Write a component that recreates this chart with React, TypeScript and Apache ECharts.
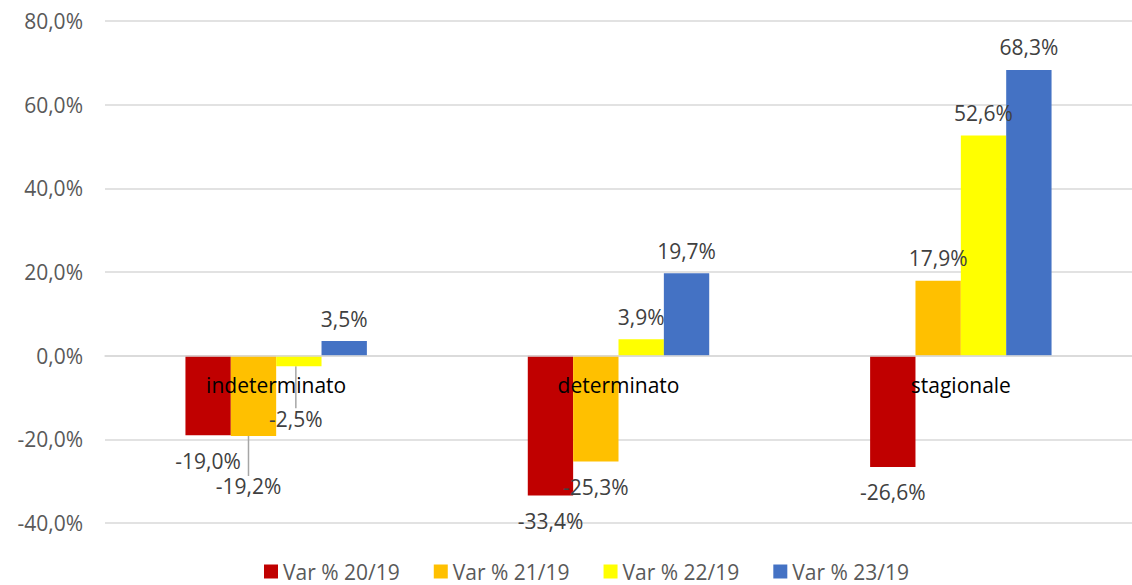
import React, { useEffect, useRef } from "react";
import * as echarts from "echarts";

const categories = ["indeterminato", "determinato", "stagionale"];
const seriesNames = ["Var % 20/19", "Var % 21/19", "Var % 22/19", "Var % 23/19"];
const var2019 = [-19.0, -33.4, -26.6];
const var2119 = [-19.2, -25.3, 17.9];
const var2219 = [-2.5, 3.9, 52.6];
const var2319 = [3.5, 19.7, 68.3];
const colors = ["#C00000", "#FFC000", "#FFFF00", "#4472C4"];
const yMin = -40;
const yMax = 80;
const yInterval = 20;

const FONT = "Open Sans";
const FS = 21;
const fmt = (v: number) => v.toFixed(1).replace(".", ",") + "%";

// labels displaced in the reference (series index, data index, dx, dy)
const displaced: [number, number, number, number][] = [
  [1, 0, -5, 25],
  [2, 0, -3, 27],
];

export default function App() {
  const ref = useRef<HTMLDivElement>(null);
  useEffect(() => {
    document.body.style.margin = "0";
    if (!ref.current) return;
    const chart = echarts.init(ref.current, undefined, { renderer: "svg" });
    const all = [var2019, var2119, var2219, var2319];
    const series = all.map((arr, si) => ({
      name: seriesNames[si],
      type: "bar",
      barGap: "0%",
      barCategoryGap: "47%",
      itemStyle: { color: colors[si] },
      data: arr.map((v, di) => {
        const d = displaced.find((x) => x[0] === si && x[1] === di);
        return {
          value: v,
          label: {
            position: v >= 0 ? "top" : "bottom",
            distance: v >= 0 ? 12 : 15,
          },
          labelLine: { show: !!d },
        };
      }),
      label: {
        show: true,
        formatter: (p: any) => fmt(p.value),
        color: "#404040",
        fontSize: FS,
        fontFamily: FONT,
      },
      labelLine: {
        show: false,
        lineStyle: { color: "#a6a6a6", width: 1.5 },
      },
      labelLayout: (p: any) => {
        const d = displaced.find((x) => x[0] === si && x[1] === p.dataIndex);
        if (d) return { dx: d[2], dy: d[3] };
        return {};
      },
    }));
    chart.setOption({
      animation: false,
      grid: { left: 105, top: 21, bottom: 62, width: 1031, containLabel: false },
      legend: {
        data: seriesNames,
        left: 264,
        top: 561,
        padding: 0,
        icon: "rect",
        itemWidth: 14,
        itemHeight: 14,
        itemGap: 34,
        textStyle: { fontSize: FS, lineHeight: 21, color: "#595959", fontFamily: FONT },
      },
      xAxis: {
        type: "category",
        data: categories,
        offset: -167,
        axisLine: { onZero: false, lineStyle: { color: "#d9d9d9", width: 1.5 } },
        axisTick: { show: false },
        axisLabel: { color: "#000", fontSize: FS, fontFamily: FONT, margin: 18 },
        z: 10,
      },
      yAxis: {
        type: "value",
        min: yMin,
        max: yMax,
        interval: yInterval,
        axisLine: { show: false },
        axisTick: { show: false },
        axisLabel: {
          color: "#595959",
          fontSize: FS,
          fontFamily: FONT,
          margin: 22,
          formatter: (v: number) => fmt(v),
        },
        splitLine: { lineStyle: { color: "#d9d9d9", width: 1.5 } },
      },
      series,
    });
    return () => chart.dispose();
  }, []);
  return <div ref={ref} style={{ width: 1132, height: 585 }} />;
}
